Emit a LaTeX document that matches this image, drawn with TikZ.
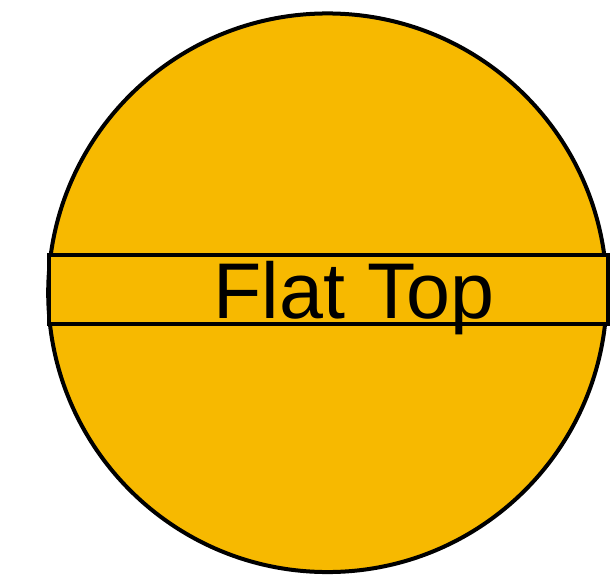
\documentclass[tikz,border=0pt]{standalone}
\usepackage{fontspec}
\setmainfont{Liberation Sans}
\definecolor{gold}{RGB}{247,185,0}
\begin{document}
\begin{tikzpicture}[x=1pt,y=1pt,
  shapestyle/.style={draw=black, line width=4pt, fill=gold, inner sep=0pt}]
\useasboundingbox (0,0) rectangle (615,579);
\node[shapestyle, circle, minimum size=558.6pt] (disc) at (327.5,286.25) {};
\node[shapestyle, rectangle, minimum width=559pt, minimum height=68.5pt] (band) at (328.5,289.25) {};
\node[anchor=base west, inner sep=0pt, font=\fontsize{79}{79}\selectfont] (label) at (213.5,260.7) {Flat Top};
\end{tikzpicture}
\end{document}
